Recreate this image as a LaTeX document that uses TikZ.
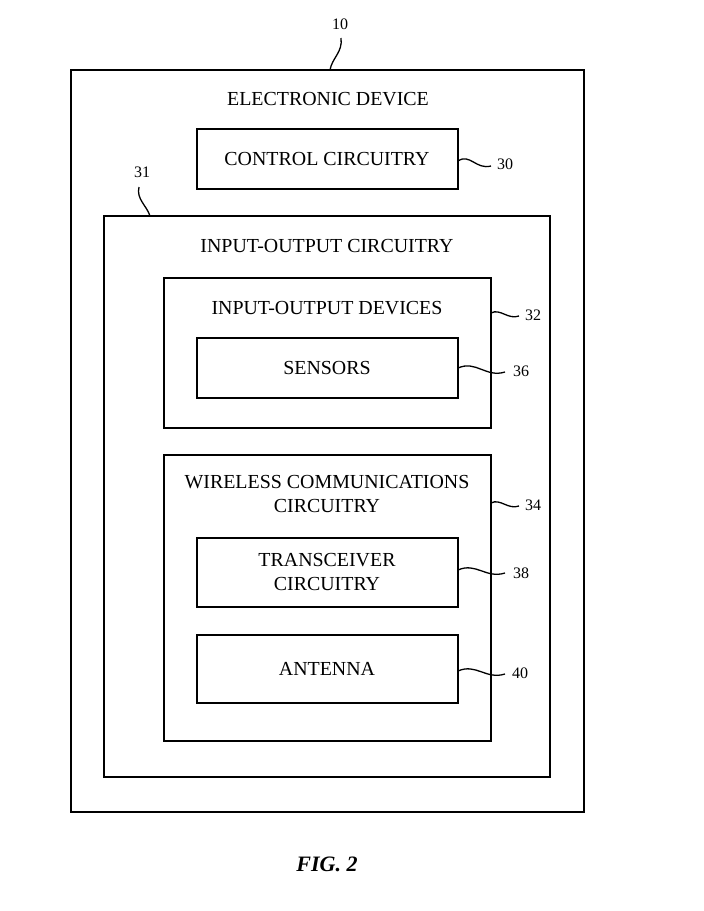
\documentclass[tikz,border=0pt]{standalone}
\usepackage{fontspec}
\setmainfont{Liberation Serif}
\begin{document}
\begin{tikzpicture}[x=1pt,y=-1pt,
  box/.style={draw,line width=1.8pt,inner sep=0pt},
  lbl/.style={font=\fontsize{19.9}{24}\selectfont,align=center,inner sep=0pt},
  num/.style={font=\fontsize{16}{19}\selectfont,inner sep=0pt,anchor=west},
  lead/.style={line width=1.3pt}]
\useasboundingbox (0,0) rectangle (704,911);
% boxes
\node[box,minimum width=513pt,minimum height=742pt] (dev) at (327.5,441) {};
\node[box,minimum width=261pt,minimum height=60pt] (ctrl) at (327.5,159) {};
\node[box,minimum width=446pt,minimum height=561pt] (ioc) at (327,496.5) {};
\node[box,minimum width=327pt,minimum height=150pt] (iod) at (327.5,353) {};
\node[box,minimum width=261pt,minimum height=60pt] (sens) at (327.5,368) {};
\node[box,minimum width=327pt,minimum height=286pt] (wcc) at (327.5,598) {};
\node[box,minimum width=261pt,minimum height=69pt] (trx) at (327.5,572.5) {};
\node[box,minimum width=261pt,minimum height=68pt] (ant) at (327.5,669) {};
% texts
\node[lbl] (tdev) at (328,99) {ELECTRONIC DEVICE};
\node[lbl] (tctrl) at (327,159) {CONTROL CIRCUITRY};
\node[lbl] (tioc) at (327,246) {INPUT-OUTPUT CIRCUITRY};
\node[lbl] (tiod) at (327,308) {INPUT-OUTPUT DEVICES};
\node[lbl] (tsens) at (327,368) {SENSORS};
\node[lbl] (twcc) at (327,494) {WIRELESS COMMUNICATIONS\\CIRCUITRY};
\node[lbl] (ttrx) at (327,572) {TRANSCEIVER\\CIRCUITRY};
\node[lbl] (tant) at (327,669) {ANTENNA};
\node[font=\fontsize{22}{26}\selectfont\bfseries\itshape] (fig) at (327,864) {FIG. 2};
% reference numerals
\node[num,anchor=center] (n10) at (340,24) {10};
\node[num,anchor=center] (n31) at (142,172) {31};
\node[num] (n30) at (497,164) {30};
\node[num] (n32) at (525,315) {32};
\node[num] (n36) at (513,371) {36};
\node[num] (n34) at (525,505) {34};
\node[num] (n38) at (513,573) {38};
\node[num] (n40) at (512,673) {40};
% leader coordinates
\coordinate (a10) at (330,70);
\coordinate (e10) at (341,38);
\coordinate (a31) at (150,216);
\coordinate (e31) at (139,187);
\coordinate (a30) at (458,161);
\coordinate (e30) at (491,166);
\coordinate (a32) at (491,313);
\coordinate (e32) at (519,316);
\coordinate (a36) at (458,368);
\coordinate (e36) at (505,372);
\coordinate (a34) at (491,503);
\coordinate (e34) at (519,506);
\coordinate (a38) at (458,570);
\coordinate (e38) at (505,573);
\coordinate (a40) at (458,671);
\coordinate (e40) at (505,674);
% leaders
\draw[lead] (a10) .. controls (332,58) and (343,52) .. (e10);
\draw[lead] (a31) .. controls (147,206) and (136,199) .. (e31);
\draw[lead] (a30) .. controls (470,153) and (476,170) .. (e30);
\draw[lead] (a32) .. controls (500,308) and (508,320) .. (e32);
\draw[lead] (a36) .. controls (476,360) and (486,378) .. (e36);
\draw[lead] (a34) .. controls (500,498) and (508,510) .. (e34);
\draw[lead] (a38) .. controls (476,562) and (486,579) .. (e38);
\draw[lead] (a40) .. controls (476,663) and (486,680) .. (e40);
\end{tikzpicture}
\end{document}
